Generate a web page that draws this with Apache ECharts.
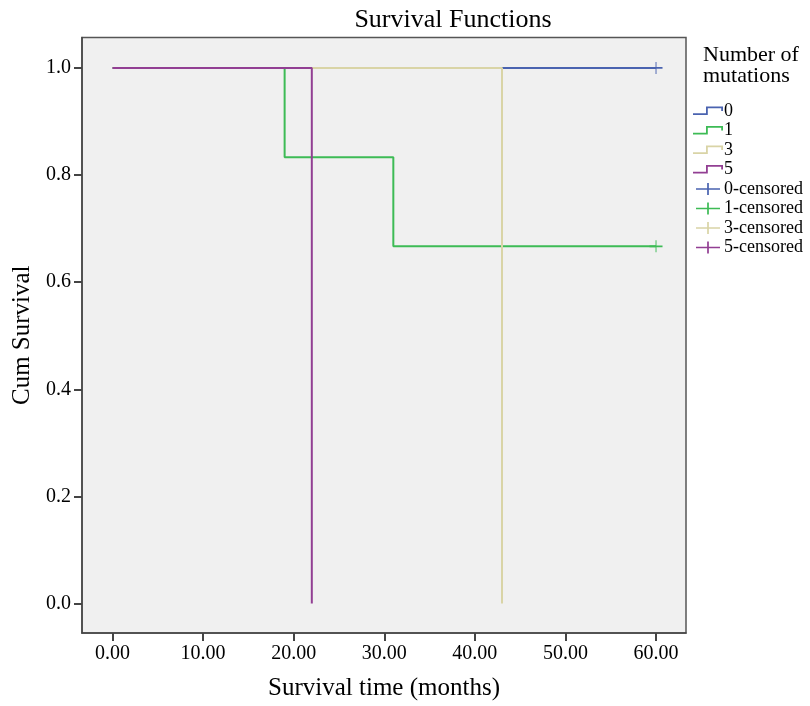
<!DOCTYPE html>
<html>
<head>
<meta charset="utf-8">
<title>Survival Functions</title>
<script src="https://cdn.jsdelivr.net/npm/echarts@6/dist/echarts.min.js"></script>
<style>
    html, body { margin: 0; padding: 0; background: #fff; }
    #main { width: 810px; height: 706px; }
</style>
</head>
<body>
<div id="main"></div>
<script>
// Kaplan-Meier steps per group (time in months, cum survival)
var groupNames = ['0', '1', '3', '5'];
var time0 = [0, 60];
var surv0 = [1, 1];
var time1 = [0, 19, 31, 60];
var surv1 = [1, 0.833, 0.667, 0.667];
var time3 = [0, 43];
var surv3 = [1, 0];
var time5 = [0, 22];
var surv5 = [1, 0];

// censored points
var cens0Time = [60];
var cens0Surv = [1];
var cens1Time = [60];
var cens1Surv = [0.667];
var cens3Time = [];
var cens3Surv = [];
var cens5Time = [];
var cens5Surv = [];

var xTicks = [0, 10, 20, 30, 40, 50, 60];
var yTicks = [0, 0.2, 0.4, 0.6, 0.8, 1.0];

var colors = ['#4a63b0', '#3dbb55', '#d9d4a6', '#923f93'];
var fontFamily = '"Liberation Serif", "DejaVu Serif", serif';

// legend icons
var stepIcon = 'path://M0,0h0.01v0.01h-0.01Z M0,11.99h0.01v0.01h-0.01Z M0,8.2H13V1.5H30V6H28.2V3.3H14.8V10H0Z';
var crossIcon = 'path://M0,6h28v2h-28Z M13,0h2v14h-2Z';

function zip(xs, ys) {
    var out = [];
    for (var i = 0; i < xs.length; i++) {
        out.push([xs[i], ys[i]]);
    }
    return out;
}

var stepData = [zip(time0, surv0), zip(time1, surv1), zip(time3, surv3), zip(time5, surv5)];
var censData = [zip(cens0Time, cens0Surv), zip(cens1Time, cens1Surv), zip(cens3Time, cens3Surv), zip(cens5Time, cens5Surv)];

var series = [];
var legendData = [];
for (var i = 0; i < groupNames.length; i++) {
    series.push({
        name: groupNames[i],
        type: 'line',
        step: 'end',
        showSymbol: false,
        symbol: 'none',
        data: stepData[i],
        itemStyle: { color: colors[i] },
        lineStyle: { color: colors[i], width: 2 }
    });
    legendData.push({ name: groupNames[i], icon: stepIcon });
}
for (var j = 0; j < groupNames.length; j++) {
    series.push({
        name: groupNames[j] + '-censored',
        type: 'scatter',
        symbol: crossIcon,
        symbolSize: [13, 12],
        data: censData[j],
        itemStyle: { color: colors[j], opacity: 1 },
        z: 3
    });
    legendData.push({ name: groupNames[j] + '-censored', icon: crossIcon });
}

var chart = echarts.init(document.getElementById('main'));

var option = {
    animation: false,
    backgroundColor: '#ffffff',
    textStyle: { fontFamily: fontFamily },
    graphic: [
        {
            type: 'text', x: 453, y: 20,
            style: { text: 'Survival Functions', font: '26px ' + fontFamily, fill: '#000', align: 'center', verticalAlign: 'middle' }
        },
        {
            type: 'text', x: 703, y: 55,
            style: { text: 'Number of', font: '22px ' + fontFamily, fill: '#000', align: 'left', verticalAlign: 'middle' }
        },
        {
            type: 'text', x: 703, y: 76,
            style: { text: 'mutations', font: '22px ' + fontFamily, fill: '#000', align: 'left', verticalAlign: 'middle' }
        }
    ],
    legend: {
        orient: 'vertical',
        left: 688,
        top: 97,
        itemWidth: 30,
        itemHeight: 12,
        itemGap: 1.5,
        selectedMode: false,
        itemStyle: { borderWidth: 0 },
        textStyle: { fontFamily: fontFamily, fontSize: 18, color: '#000', padding: [0, 0, 0, -4] },
        data: legendData
    },
    grid: {
        left: 82,
        right: 124,
        top: 37.5,
        bottom: 72,
        show: true,
        backgroundColor: '#f0f0f0',
        borderColor: '#555',
        borderWidth: 1.5
    },
    xAxis: {
        type: 'value',
        min: -3.37,
        max: 63.31,
        name: 'Survival time (months)',
        nameLocation: 'middle',
        nameGap: 43,
        nameTextStyle: { fontFamily: fontFamily, fontSize: 25, color: '#000' },
        axisLine: { show: true, onZero: false, lineStyle: { color: '#444', width: 1.5 } },
        axisTick: { show: true, inside: false, length: 8, customValues: xTicks, lineStyle: { color: '#444', width: 2 } },
        axisLabel: {
            customValues: xTicks,
            margin: 11,
            fontFamily: fontFamily,
            fontSize: 20,
            color: '#000',
            formatter: function (v) { return v.toFixed(2); }
        },
        splitLine: { show: false }
    },
    yAxis: {
        type: 'value',
        min: -0.055,
        max: 1.0568,
        name: 'Cum Survival',
        nameLocation: 'middle',
        nameGap: 46,
        nameTextStyle: { fontFamily: fontFamily, fontSize: 25, color: '#000' },
        axisLine: { show: true, onZero: false, lineStyle: { color: '#444', width: 1.5 } },
        axisTick: { show: true, inside: false, length: 8, customValues: yTicks, lineStyle: { color: '#444', width: 2 } },
        axisLabel: {
            customValues: yTicks,
            margin: 11,
            fontFamily: fontFamily,
            fontSize: 20,
            color: '#000',
            formatter: function (v) { return v.toFixed(1); }
        },
        splitLine: { show: false }
    },
    series: series
};

chart.setOption(option);
</script>
</body>
</html>
